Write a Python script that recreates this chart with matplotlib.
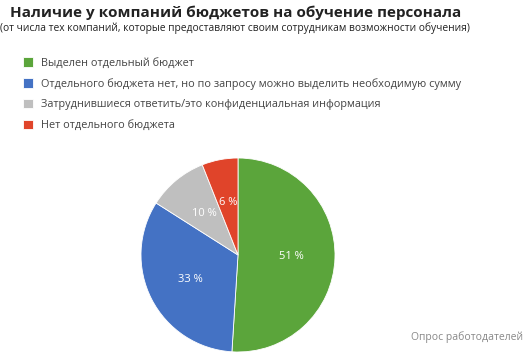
import matplotlib
matplotlib.use("Agg")
import matplotlib.pyplot as plt

categories = [
    "Выделен отдельный бюджет",
    "Отдельного бюджета нет, но по запросу можно выделить необходимую сумму",
    "Затруднившиеся ответить/это конфиденциальная информация",
    "Нет отдельного бюджета",
]
values = [51, 33, 10, 6]
colors = ["#5ba53b", "#4472c4", "#bfbfbf", "#e0442a"]

title = "Наличие у компаний бюджетов на обучение персонала"
subtitle = "(от числа тех компаний, которые предоставляют своим сотрудникам возможности обучения)"
source = "Опрос работодателей"

plt.rcParams['font.family'] = ['Open Sans', 'DejaVu Sans']

W, H = 527, 354
fig = plt.figure(figsize=(W / 100, H / 100), dpi=100)
fig.patch.set_facecolor("white")

cx, cy, r = 238, 255, 97
ax = fig.add_axes([(cx - r) / W, (H - cy - r) / H, 2 * r / W, 2 * r / H])
wedges, texts, autotexts = ax.pie(
    values, colors=colors, startangle=90, counterclock=False,
    autopct=lambda p: f"{p:.0f} %", pctdistance=0.55,
    wedgeprops=dict(linewidth=0.6, edgecolor="white"),
    textprops=dict(color="white", fontsize=8),
)
ax.set_xlim(-1, 1)
ax.set_ylim(-1, 1)
ax.set_aspect("equal")

fig.text(10 / W, 1 - 12.5 / H, title, fontsize=11, fontweight="bold",
         color="#222222", ha="left", va="center")
fig.text(0, 1 - 28 / H, subtitle, fontsize=7.4, color="#222222",
         ha="left", va="center")

fig.legend(wedges, categories, loc="upper left",
           bbox_to_anchor=(22.5 / W, 1 - 57 / H), frameon=False,
           fontsize=7.8, labelcolor="#444444", handlelength=1.0,
           handleheight=1.0, handletextpad=0.7, labelspacing=0.85,
           borderpad=0, borderaxespad=0)

fig.text(523 / W, 1 - 337 / H, source, fontsize=7.5, color="#888888",
         ha="right", va="center")

fig.savefig("out.png", dpi=100)
